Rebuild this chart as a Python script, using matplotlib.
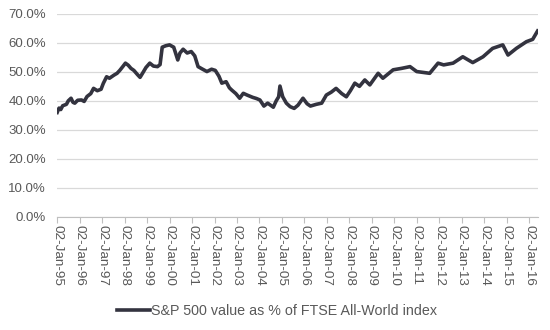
import matplotlib
matplotlib.use('Agg')
import matplotlib.pyplot as plt
import matplotlib.dates as mdates
from matplotlib.ticker import PercentFormatter
import pandas as pd

dates = ['1995-01-02', '1995-02-01', '1995-03-01', '1995-04-01', '1995-06-01', '1995-07-01',
         '1995-08-15', '1995-09-15', '1995-10-15', '1995-12-01', '1996-02-01', '1996-03-15',
         '1996-05-01', '1996-07-01', '1996-08-15', '1996-10-15', '1996-12-15', '1997-01-20',
         '1997-03-15', '1997-05-01', '1997-07-15', '1997-09-01', '1997-10-15', '1997-12-10',
         '1998-01-15', '1998-03-01', '1998-04-15', '1998-06-01', '1998-08-01', '1998-09-10',
         '1998-10-20', '1998-12-15', '1999-02-15', '1999-04-15', '1999-06-20', '1999-08-01',
         '1999-09-05', '1999-11-01', '2000-01-02', '2000-03-10', '2000-05-15', '2000-06-20',
         '2000-08-10', '2000-10-15', '2000-12-20', '2001-02-15', '2001-04-10', '2001-06-15',
         '2001-09-01', '2001-11-15', '2002-01-15', '2002-03-15', '2002-05-01', '2002-07-10',
         '2002-09-01', '2002-10-10', '2002-12-15', '2003-02-15', '2003-04-15', '2003-06-15',
         '2003-09-15', '2003-11-15', '2004-01-10', '2004-03-15', '2004-05-15', '2004-07-01',
         '2004-08-15', '2004-10-01', '2004-11-10', '2004-12-01', '2005-01-15', '2005-03-15',
         '2005-05-15', '2005-07-20', '2005-09-20', '2005-12-10', '2006-02-15', '2006-04-10',
         '2006-07-15', '2006-10-10', '2006-12-25', '2007-03-15', '2007-06-01', '2007-09-01',
         '2007-11-15', '2008-01-20', '2008-04-01', '2008-06-15', '2008-09-10', '2008-12-01',
         '2009-04-15', '2009-07-01', '2009-12-15', '2010-05-01', '2010-09-15', '2011-01-02',
         '2011-08-01', '2011-12-15', '2012-03-15', '2012-08-15', '2013-01-20', '2013-07-01',
         '2013-12-15', '2014-05-20', '2014-11-01', '2015-01-25', '2015-06-10', '2015-11-20',
         '2016-03-01', '2016-05-20']
ratio = [36.0, 37.5, 37.0, 38.3, 38.8, 40.0,
         40.9, 39.5, 39.2, 40.2, 40.3, 39.8,
         41.5, 42.5, 44.3, 43.5, 44.0, 46.0,
         48.3, 47.8, 48.9, 49.5, 50.5, 52.0,
         53.0, 52.3, 51.2, 50.5, 49.0, 48.1,
         49.5, 51.5, 53.0, 52.0, 51.8, 52.5,
         58.5, 59.0, 59.3, 58.5, 54.1, 56.5,
         57.8, 56.5, 57.0, 55.5, 51.8, 51.0,
         50.1, 50.9, 50.5, 48.5, 46.1, 46.6,
         44.5, 43.7, 42.5, 40.9, 42.6, 42.0,
         41.2, 40.8, 40.3, 38.2, 39.2, 38.5,
         37.8, 40.0, 41.4, 45.1, 41.4, 39.2,
         38.0, 37.4, 38.5, 40.9, 39.0, 38.2,
         38.8, 39.2, 42.0, 43.0, 44.3, 42.5,
         41.4, 43.5, 46.1, 45.0, 47.2, 45.5,
         49.5, 47.8, 50.7, 51.2, 51.8, 50.1,
         49.5, 53.0, 52.4, 53.0, 55.2, 53.2,
         55.2, 58.1, 59.3, 55.8, 58.1, 60.4,
         61.2, 64.1]

plt.rcParams['font.family'] = ['Liberation Sans', 'DejaVu Sans']

fig = plt.figure(figsize=(5.5, 3.3), dpi=100)
ax = fig.add_axes([0.104, 0.343, 0.874, 0.615])

x = pd.to_datetime(dates)
ax.plot(x, ratio, color='#33333f', lw=2.6, solid_joinstyle='round',
        label='S&P 500 value as % of FTSE All-World index')

ax.set_ylim(0, 70)
ax.set_yticks(range(0, 71, 10))
ax.yaxis.set_major_formatter(PercentFormatter(decimals=1))
ax.set_xlim(pd.Timestamp('1995-01-02'), pd.Timestamp('2016-05-25'))
ax.xaxis.set_major_locator(mdates.YearLocator(1, month=1, day=2))
ax.xaxis.set_major_formatter(mdates.DateFormatter('%d-%b-%y'))

ax.grid(axis='y', color='#d9d9d9', lw=0.9)
ax.set_axisbelow(True)
for s in ['top', 'right', 'left']:
    ax.spines[s].set_visible(False)
ax.spines['bottom'].set_color('#bfbfbf')
ax.tick_params(axis='y', length=0, pad=8, labelsize=9.5, labelcolor='#595959')
ax.tick_params(axis='x', length=4, color='#bfbfbf', labelsize=9.7,
               labelcolor='#595959', rotation=-90, pad=2)

fig.legend(loc='center', bbox_to_anchor=(277 / 550, 0.058), frameon=False,
           fontsize=10.3, labelcolor='#595959', handlelength=2.3, handletextpad=0.05)

fig.savefig('out.png', dpi=100)
